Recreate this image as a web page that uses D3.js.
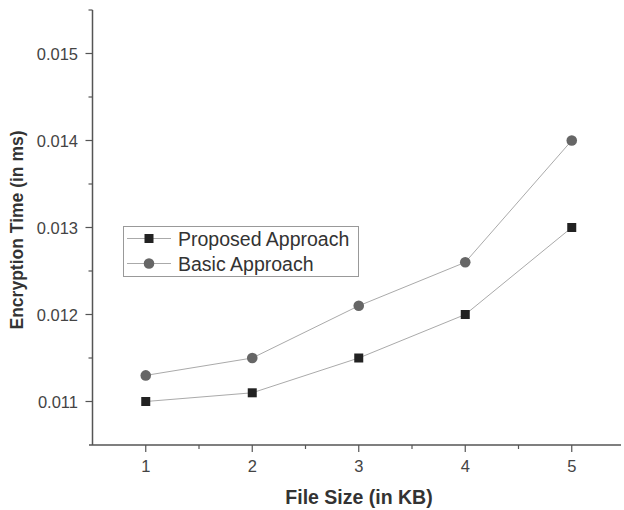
<!DOCTYPE html>
<html>
<head>
<meta charset="utf-8">
<script src="https://d3js.org/d3.v7.min.js"></script>
<style>
  body { margin: 0; background: #fff; }
  text { font-family: "Liberation Sans", Arial, sans-serif; }
</style>
</head>
<body>
<div id="chart"></div>
<script>
// data
var fileSizes = [1, 2, 3, 4, 5];
var proposed = [0.0110, 0.0111, 0.0115, 0.0120, 0.0130];
var basic = [0.0113, 0.0115, 0.0121, 0.0126, 0.0140];
var seriesNames = ["Proposed Approach", "Basic Approach"];
var yTicks = [0.011, 0.012, 0.013, 0.014, 0.015];

var W = 624, H = 510;
var svg = d3.select("#chart").append("svg").attr("width", W).attr("height", H);

var x = d3.scaleLinear().domain([0.5, 5.5]).range([92.5, 625]);
var y = d3.scaleLinear().domain([0.0105, 0.0155]).range([445, 10]);

var axisColor = "#555";

// x axis
var gx = svg.append("g").attr("transform", "translate(0,445)");
gx.append("line").attr("x1", 89).attr("x2", 621).attr("stroke", axisColor).attr("stroke-width", 1.5);
gx.selectAll(".xmin").data(d3.range(1.5, 5.5, 1)).enter().append("line")
  .attr("x1", x).attr("x2", x).attr("y1", 0).attr("y2", 4)
  .attr("stroke", axisColor).attr("stroke-width", 1.2);
gx.selectAll(".xmaj").data(fileSizes).enter().append("line")
  .attr("x1", x).attr("x2", x).attr("y1", 0).attr("y2", 7)
  .attr("stroke", axisColor).attr("stroke-width", 1.2);
gx.selectAll(".xlab").data(fileSizes).enter().append("text")
  .attr("x", x).attr("y", 27).attr("text-anchor", "middle")
  .attr("font-size", 16.5).attr("fill", "#444").text(function(d){ return d; });

// y axis
var gy = svg.append("g").attr("transform", "translate(92.5,0)");
gy.append("line").attr("y1", 10).attr("y2", 445).attr("stroke", axisColor).attr("stroke-width", 1.5);
var yMinor = [0.0115, 0.0125, 0.0135, 0.0145, 0.0155];
gy.selectAll(".ymin").data(yMinor).enter().append("line")
  .attr("y1", y).attr("y2", y).attr("x1", 0).attr("x2", -4)
  .attr("stroke", axisColor).attr("stroke-width", 1.2);
gy.selectAll(".ymaj").data(yTicks).enter().append("line")
  .attr("y1", y).attr("y2", y).attr("x1", 0).attr("x2", -7)
  .attr("stroke", axisColor).attr("stroke-width", 1.2);
gy.selectAll(".ylab").data(yTicks).enter().append("text")
  .attr("x", -14.5).attr("y", function(d){ return y(d) + 6; }).attr("text-anchor", "end")
  .attr("font-size", 16.5).attr("fill", "#444").text(d3.format(".3f"));

// axis titles
svg.append("text").attr("x", 359).attr("y", 504).attr("text-anchor", "middle")
  .attr("font-size", 19.5).attr("font-weight", "bold").attr("fill", "#333").text("File Size (in KB)");
svg.append("text").attr("transform", "translate(23,230) rotate(-90)").attr("text-anchor", "middle")
  .attr("font-size", 17.5).attr("font-weight", "bold").attr("fill", "#333").text("Encryption Time (in ms)");

var line = d3.line().x(function(d, i){ return x(fileSizes[i]); }).y(function(d){ return y(d); });

[basic, proposed].forEach(function(s) {
  svg.append("path").datum(s).attr("d", line).attr("fill", "none")
    .attr("stroke", "#aaa").attr("stroke-width", 1);
});

svg.selectAll(".sq").data(proposed).enter().append("rect")
  .attr("x", function(d, i){ return x(fileSizes[i]) - 4.5; })
  .attr("y", function(d){ return y(d) - 4.5; })
  .attr("width", 9).attr("height", 9).attr("fill", "#222");
svg.selectAll(".ci").data(basic).enter().append("circle")
  .attr("cx", function(d, i){ return x(fileSizes[i]); })
  .attr("cy", function(d){ return y(d); })
  .attr("r", 5.3).attr("fill", "#666");

// legend
var lg = svg.append("g");
lg.append("rect").attr("x", 123.5).attr("y", 226.5).attr("width", 235).attr("height", 50)
  .attr("fill", "#fff").attr("stroke", "#999").attr("stroke-width", 1);
seriesNames.forEach(function(name, i) {
  var cy = 238.5 + i * 25;
  lg.append("line").attr("x1", 127).attr("x2", 171).attr("y1", cy).attr("y2", cy)
    .attr("stroke", "#aaa").attr("stroke-width", 1);
  if (i === 0) {
    lg.append("rect").attr("x", 144.5).attr("y", cy - 4.5).attr("width", 9).attr("height", 9).attr("fill", "#222");
  } else {
    lg.append("circle").attr("cx", 149).attr("cy", cy).attr("r", 5.3).attr("fill", "#666");
  }
  lg.append("text").attr("x", 178).attr("y", cy + 7).attr("font-size", 19.5).attr("fill", "#333").text(name);
});
</script>
</body>
</html>
